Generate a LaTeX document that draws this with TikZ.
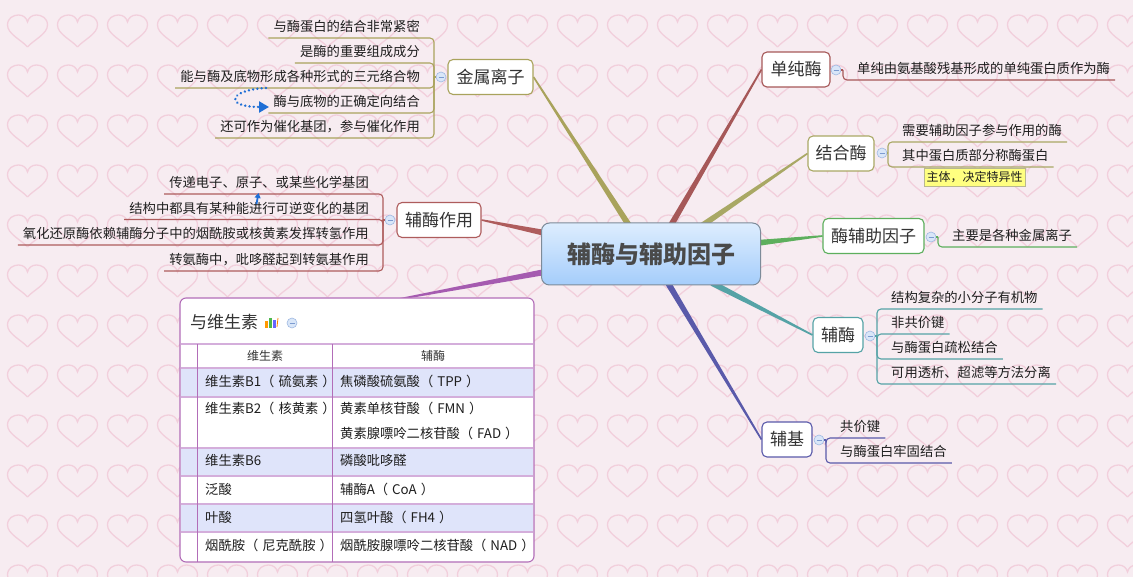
\documentclass[tikz,border=0pt]{standalone}
\usepackage{fontspec}
\setmainfont{Noto Sans CJK SC}
\usetikzlibrary{calc,arrows.meta}
\definecolor{bgpink}{HTML}{F7ECF1}
\definecolor{heartc}{HTML}{F2CFDC}
\definecolor{colA}{HTML}{A9A35C}
\definecolor{colB}{HTML}{AE5C5C}
\definecolor{colC}{HTML}{A55BB0}
\definecolor{colD}{HTML}{A65858}
\definecolor{colE}{HTML}{A9A865}
\definecolor{colF}{HTML}{5DAF5D}
\definecolor{colG}{HTML}{55A3A6}
\definecolor{colH}{HTML}{5A5AAA}
\definecolor{centerb}{HTML}{7D8B99}
\definecolor{centert}{HTML}{DDEDFE}
\definecolor{centerbot}{HTML}{A5CDFB}
\definecolor{centertext}{HTML}{4A4A4A}
\definecolor{tblb}{HTML}{B26DB8}
\definecolor{tblline}{HTML}{D4AEDB}
\definecolor{rowhl}{HTML}{DFE4FA}
\definecolor{foldf}{HTML}{D9E6F8}
\definecolor{foldb}{HTML}{9FB9E2}
\definecolor{foldm}{HTML}{7C9BD0}
\definecolor{relblue}{HTML}{1F6FD6}
\definecolor{labelf}{HTML}{FFFF80}
\definecolor{labelb}{HTML}{B8B890}
\definecolor{leaftext}{HTML}{1E1E1E}
\definecolor{topictext}{HTML}{333333}
\pgfdeclarelayer{bg}
\pgfdeclarelayer{lines}
\pgfsetlayers{bg,lines,main}
\newcommand\mybranch[3]{%
  \fill[#1] ($(#2)!3pt!90:(#3)$) -- ($(#2)!3pt!-90:(#3)$) -- ($(#3)!0.8pt!90:(#2)$) -- ($(#3)!0.8pt!-90:(#2)$) -- cycle;}
\tikzset{
  heartpic/.pic={\draw[heartc,line width=1.3pt] (0,16) .. controls (-6,9) and (-20,3) .. (-20,-6) .. controls (-20,-13) and (-14,-16) .. (-9,-16) .. controls (-4,-16) and (-1,-13) .. (0,-9) .. controls (1,-13) and (4,-16) .. (9,-16) .. controls (14,-16) and (20,-13) .. (20,-6) .. controls (20,3) and (6,9) .. (0,16);},
  topic/.style={draw=#1, line width=1.1pt, fill=white, rounded corners=5pt, font=\fontsize{17}{20}\selectfont, text=topictext, inner sep=0pt, minimum height=35pt},
  leafL/.style={anchor=south east, inner xsep=5pt, inner ysep=0pt, text height=10pt, text depth=6pt, font=\fontsize{13.3}{16}\selectfont, text=leaftext},
  leafR/.style={leafL, anchor=south west},
  fold/.style={circle, draw=foldb, fill=foldf, minimum size=10pt, inner sep=0pt, line width=0.6pt,
    path picture={\draw[foldm,line width=0.8pt] ($(path picture bounding box.west)+(2.5pt,0)$) -- ($(path picture bounding box.east)+(-2.5pt,0)$);}},
  sub/.style={line width=1.1pt, rounded corners=4pt},
  cell/.style={anchor=west, inner sep=0pt, font=\fontsize{13.3}{16}\selectfont, text=leaftext},
  hcell/.style={inner sep=0pt, font=\fontsize{12}{14}\selectfont, text=topictext},
}
\newcommand\lp{（\hspace{0.3em}}
\newcommand\rp{\hspace{0.3em}）}
\begin{document}
\begin{tikzpicture}[x=1pt,y=-1pt]
\useasboundingbox (0,0) rectangle (1133,577);
\begin{pgfonlayer}{bg}
  \fill[bgpink] (0,0) rectangle (1133,577);
  \foreach \i in {0,...,22} \foreach \j in {0,...,11} \pic at (27.5+50*\i,31+50*\j) {heartpic};
\end{pgfonlayer}

% center
\node[draw=centerb, line width=1pt, rounded corners=8pt, top color=centert, bottom color=centerbot,
  minimum width=219pt, minimum height=62pt, font=\bfseries\fontsize{24}{28}\selectfont, text=centertext] (c) at (651,254) {辅酶与辅助因子};

% main topics
\node[topic=colA, minimum width=85pt] (jszl) at (490.5,77) {金属离子};
\node[topic=colB, minimum width=84pt] (fmzy) at (439,220) {辅酶作用};
\node[topic=colD, minimum width=68pt] (dcm) at (796,69.5) {单纯酶};
\node[topic=colE, minimum width=66pt] (jhm) at (841,153.5) {结合酶};
\node[topic=colF, minimum width=101pt] (mfz) at (873.5,236) {酶辅助因子};
\node[topic=colG, minimum width=50pt] (fm) at (838,335) {辅酶};
\node[topic=colH, minimum width=50pt] (fj) at (787,439.5) {辅基};

% branch start coordinates
\coordinate (s1) at (630,227);
\coordinate (s2) at (545,233);
\coordinate (s3) at (545,272);
\coordinate (s4) at (670,227);
\coordinate (s5) at (700,227);
\coordinate (s6) at (757,243);
\coordinate (s7) at (712,283);
\coordinate (s8) at (668,283);

% table
\node[draw=tblb, line width=1.1pt, fill=white, rounded corners=6pt, minimum width=354pt, minimum height=264pt, inner sep=0pt] (tbl) at (357,430) {};
\coordinate (tblend) at ($(tbl.north)+(40,2)$);

\begin{pgfonlayer}{lines}
  \mybranch{colA}{s1}{jszl.east}
  \mybranch{colB}{s2}{fmzy.east}
  \mybranch{colC}{s3}{tblend}
  \mybranch{colD}{s4}{dcm.west}
  \mybranch{colE}{s5}{jhm.west}
  \mybranch{colF}{s6}{mfz.west}
  \mybranch{colG}{s7}{fm.west}
  \mybranch{colH}{s8}{fj.west}
\end{pgfonlayer}

% ---------- 金属离子 leaves
\coordinate (jA) at (434,77);
\node[fold] (fA) at (441,77) {};
\node[leafL] (a1) at (425,38) {与酶蛋白的结合非常紧密};
\node[leafL] (a2) at (425,63) {是酶的重要组成成分};
\node[leafL] (a3) at (425,88) {能与酶及底物形成各种形式的三元络合物};
\node[leafL] (a4) at (425,113) {酶与底物的正确定向结合};
\node[leafL] (a5) at (425,138) {还可作为催化基团，参与催化作用};
\draw[colA,line width=1.1pt] (fA.west) -- (jA);
\foreach \k in {a1,a2,a3,a4,a5} \draw[sub,colA] (jA) |- (\k.south west);

% relation arrow
\coordinate (r1) at (266,88);
\coordinate (r2) at (269,107);
\draw[relblue, line width=2.6pt, line cap=round, dash pattern=on 0.1pt off 4.2pt, -{Triangle[length=10pt,width=11pt]}] (r1) .. controls (228,90) and (224,107) .. (r2);

% ---------- 辅酶作用 leaves
\coordinate (jB) at (383,220);
\node[fold] (fB) at (390,220) {};
\node[leafL] (b1) at (374,194) {传递电子、原子、或某些化学基团};
\node[leafL] (b2) at (374,219.5) {结构中都具有某种能进行可逆变化的基团};
\node[leafL] (b3) at (374,245) {氧化还原酶依赖辅酶分子中的烟酰胺或核黄素发挥转氢作用};
\node[leafL] (b4) at (374,271) {转氨酶中，吡哆醛起到转氨基作用};
\draw[colB,line width=1.1pt] (fB.west) -- (jB);
\foreach \k in {b1,b2,b3,b4} \draw[sub,colB] (jB) |- (\k.south west);
\coordinate (q1) at (256.5,204);
\coordinate (q2) at (258.5,193);
\draw[relblue, line width=1.8pt, -{Triangle[length=5pt,width=6pt]}] (q1) -- (q2);

% ---------- 单纯酶
\coordinate (jD) at (843,70);
\node[fold] (fD) at (836,70) {};
\node[leafR] (d1) at (852,80) {单纯由氨基酸残基形成的单纯蛋白质作为酶};
\draw[colD,line width=1.1pt] (fD.east) -- (jD);
\draw[sub,colD] (jD) |- (d1.south east);

% ---------- 结合酶
\coordinate (jE) at (888,153);
\node[fold] (fE) at (882,153) {};
\node[leafR] (e1) at (897,142) {需要辅助因子参与作用的酶};
\node[leafR] (e2) at (897,167) {其中蛋白质部分称酶蛋白};
\draw[colE,line width=1.1pt] (fE.east) -- (jE);
\foreach \k in {e1,e2} \draw[sub,colE] (jE) |- (\k.south east);
\node[draw=labelb, fill=labelf, line width=0.6pt, inner sep=0pt, minimum width=101pt, minimum height=18pt, font=\fontsize{12}{14}\selectfont, text=leaftext] (lab) at (974.5,177) {主体，决定特异性};

% ---------- 酶辅助因子
\coordinate (jF) at (938,237);
\node[fold] (fF) at (931,237) {};
\node[leafR] (f1) at (947,247) {主要是各种金属离子};
\draw[colF,line width=1.1pt] (fF.east) -- (jF);
\draw[sub,colF] (jF) |- (f1.south east);

% ---------- 辅酶
\coordinate (jG) at (877,336);
\node[fold] (fG) at (870,336) {};
\node[leafR] (g1) at (886,309) {结构复杂的小分子有机物};
\node[leafR] (g2) at (886,334) {非共价键};
\node[leafR] (g3) at (886,359) {与酶蛋白疏松结合};
\node[leafR] (g4) at (886,384) {可用透析、超滤等方法分离};
\draw[colG,line width=1.1pt] (fG.east) -- (jG);
\foreach \k in {g1,g2,g3,g4} \draw[sub,colG] (jG) |- (\k.south east);

% ---------- 辅基
\coordinate (jH) at (826,440);
\node[fold] (fH) at (819,440) {};
\node[leafR] (h1) at (835,438) {共价键};
\node[leafR] (h2) at (835,463) {与酶蛋白牢固结合};
\draw[colH,line width=1.1pt] (fH.east) -- (jH);
\foreach \k in {h1,h2} \draw[sub,colH] (jH) |- (\k.south east);

% ---------- table content
\node[anchor=west, inner sep=0pt, font=\fontsize{17}{20}\selectfont, text=topictext] (tt) at (190,322) {与维生素};
\fill[orange!80!yellow] (265,321) rectangle (267.5,328);
\fill[green!60!black!70] (269,318) rectangle (271.5,328);
\fill[blue!60] (273,320) rectangle (275.5,328);
\draw[orange, line width=0.8pt] (277,327) -- (278,318);
\node[fold] (fT) at (292,323) {};
\foreach \ya/\yb in {368/397,448/476,504/532} \fill[rowhl] (181,\ya) rectangle (533,\yb);
\foreach \yy in {344,368,397,448,476,504,532} \draw[tblline, line width=2pt] (180.6,\yy) -- (533.4,\yy);
\draw[tblb, line width=1pt] (197,344) -- (197,561.5);
\draw[tblb, line width=1pt] (332,344) -- (332,561.5);
\node[hcell] (h1c) at (265,356) {维生素};
\node[hcell] (h2c) at (433,356) {辅酶};
\node[cell] (r1a) at (205,381) {维生素B1\lp 硫氨素\rp};
\node[cell] (r1b) at (340,381) {焦磷酸硫氨酸\lp TPP\rp};
\node[cell] (r2a) at (205,408) {维生素B2\lp 核黄素\rp};
\node[cell] (r2b) at (340,408) {黄素单核苷酸\lp FMN\rp};
\node[cell] (r2c) at (340,433) {黄素腺嘌呤二核苷酸\lp FAD\rp};
\node[cell] (r3a) at (205,460) {维生素B6};
\node[cell] (r3b) at (340,460) {磷酸吡哆醛};
\node[cell] (r4a) at (205,489) {泛酸};
\node[cell] (r4b) at (340,489) {辅酶A\lp CoA\rp};
\node[cell] (r5a) at (205,517) {叶酸};
\node[cell] (r5b) at (340,517) {四氢叶酸\lp FH4\rp};
\node[cell] (r6a) at (205,545) {烟酰胺\lp 尼克酰胺\rp};
\node[cell] (r6b) at (340,545) {烟酰胺腺嘌呤二核苷酸\lp NAD\rp};
\end{tikzpicture}
\end{document}
